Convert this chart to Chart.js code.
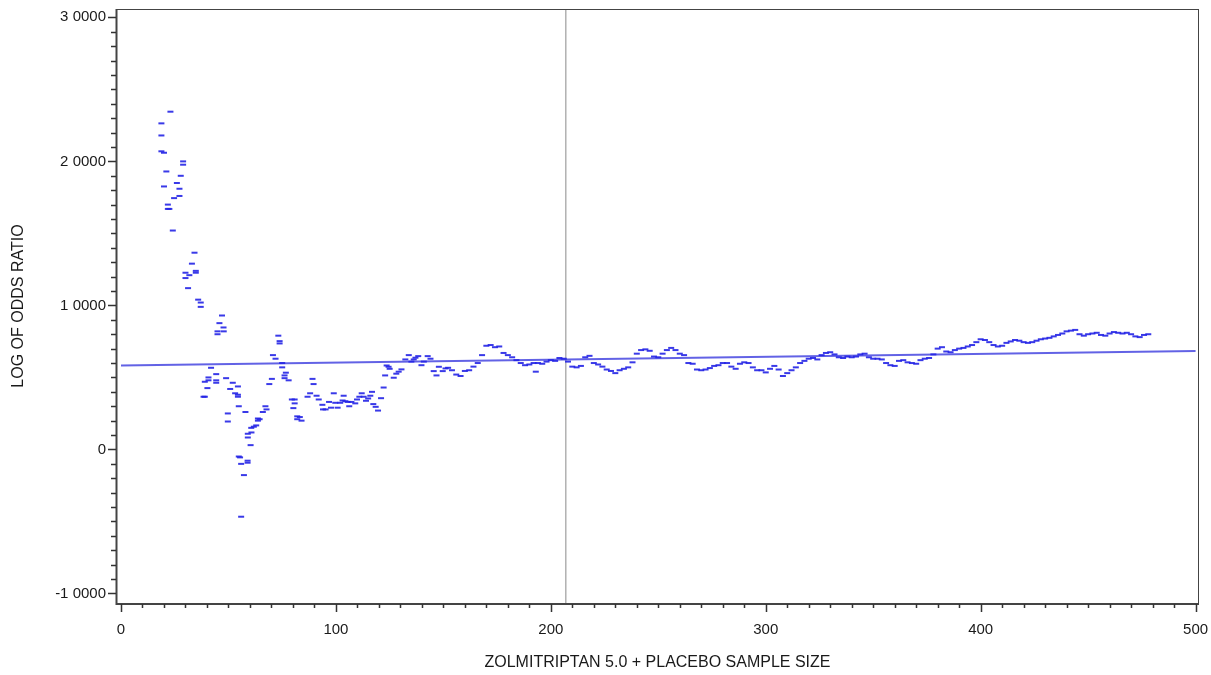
<!DOCTYPE html>
<html>
<head>
<meta charset="utf-8">
<script src="https://cdn.jsdelivr.net/npm/chart.js@4"></script>
<style>
  html, body { margin: 0; padding: 0; background: #fff; }
  #wrap { width: 1211px; height: 675px; }
</style>
</head>
<body>
<div id="wrap"><canvas id="chart" width="1211" height="675"></canvas></div>
<script>
// Early, scattered part of the running estimate
const earlyN = [
  18.8, 18.8, 18.8, 20, 20, 21.1, 21.8, 21.8, 22.5, 23, 24.1, 24.7, 26, 27.2, 27.2, 27.8, 28.9, 28.9,
  30, 30, 31.2, 31.8, 33, 34.2, 34.8, 34.8, 35.9, 37.1, 37.1, 38.4, 39, 39, 40.2, 40.7, 40.7, 41.9,
  44.3, 44.3, 44.3, 44.9, 44.9, 45.8, 47, 47.7, 47.8, 48.9, 49.7, 49.7, 50.8, 52, 53.1, 54.4, 54.4, 54.4,
  54.8, 54.8, 55.4, 55.9, 55.9, 57.2, 57.9, 58.9, 58.9, 59, 59, 60.3, 60.6, 60.7, 61.8, 62.9, 63.7, 63.7,
  64.5, 66, 67.2, 67.7, 69, 70.2, 70.7, 71.9, 73.2, 73.8, 73.8, 75, 75, 76.1, 76.1, 76.7, 78, 79.5,
  80.8, 80.8, 80.2, 82, 83.2, 82, 84, 86.8, 88, 89.1, 89.6, 91, 92, 93.7, 94, 95.2, 96.8, 97.7, 99,
  99.7, 100.8, 102, 103.1, 103.6, 104.4, 105.5, 106.2, 107.2, 109, 109.8, 110.9, 112, 112.9, 114, 115,
  116, 116.8, 117.4, 118.5, 119.6, 121, 122.2, 122.9, 123.6, 124.5, 125, 126.9, 128.1, 129.2, 130.5,
  132.3, 133.9, 135.1, 136.2, 137, 138.3, 139.8, 140.9, 142.7, 144, 145.5, 146.8, 147.9, 149.7, 151, 152.2
];
const earlyLogOR = [
  2.264, 2.18, 2.07, 2.06, 1.826, 1.93, 1.70, 1.67, 1.67, 2.345, 1.52, 1.745, 1.85, 1.81, 1.76, 1.90, 2.0, 1.977,
  1.227, 1.19, 1.12, 1.21, 1.29, 1.366, 1.24, 1.227, 1.04, 1.02, 0.99, 0.366, 0.366, 0.47, 0.426, 0.50, 0.48, 0.567,
  0.523, 0.48, 0.463, 0.82, 0.80, 0.877, 0.93, 0.847, 0.82, 0.495, 0.25, 0.194, 0.42, 0.463, 0.39, 0.4375, 0.38, 0.366,
  0.30, -0.049, -0.055, -0.1, -0.467, -0.178, 0.26, -0.078, -0.092, 0.109, 0.083, 0.03, 0.15, 0.118, 0.158, 0.167, 0.215, 0.2,
  0.21, 0.26, 0.30, 0.278, 0.454, 0.49, 0.655, 0.63, 0.79, 0.752, 0.736, 0.60, 0.57, 0.514, 0.495, 0.533, 0.48, 0.347,
  0.347, 0.32, 0.287, 0.23, 0.225, 0.21, 0.2, 0.366, 0.39, 0.49, 0.454, 0.373, 0.347, 0.31, 0.278, 0.278, 0.33, 0.29, 0.39,
  0.324, 0.29, 0.324, 0.34, 0.373, 0.335, 0.33, 0.30, 0.33, 0.32, 0.347, 0.366, 0.39, 0.366, 0.338, 0.354,
  0.373, 0.40, 0.315, 0.296, 0.27, 0.356, 0.43, 0.514, 0.583, 0.574, 0.56, 0.498, 0.526, 0.54, 0.556,
  0.625, 0.655, 0.61, 0.625, 0.637, 0.648, 0.585, 0.61, 0.648, 0.63, 0.544, 0.514, 0.574, 0.544, 0.5625, 0.567
];

// Later, smoother part of the running estimate
const lateN = [
  154, 156, 158, 160, 162, 164, 166, 168, 170, 172, 174, 176, 178, 180, 182, 184, 186, 188, 190, 192, 193, 194, 196, 198,
  200, 202, 204, 206, 208, 210, 212, 214, 216, 218, 220, 222, 224, 226, 228, 230, 232, 234, 236, 238, 240, 242, 244, 246, 248,
  250, 252, 254, 256, 258, 260, 262, 264, 266, 268, 270, 272, 274, 276, 278, 280, 282, 284, 286, 288, 290, 292, 294, 296, 298,
  300, 302, 304, 306, 308, 310, 312, 314, 316, 318, 320, 322, 324, 326, 328, 330, 332, 334, 336, 338, 340, 342, 344, 346, 348,
  350, 352, 354, 356, 358, 360, 362, 364, 366, 368, 370, 372, 374, 376, 378, 380, 382, 384, 386, 388, 390, 392, 394, 396, 398,
  400, 402, 404, 406, 408, 410, 412, 414, 416, 418, 420, 422, 424, 426, 428, 430, 432, 434, 436, 438, 440, 442, 444, 446, 448,
  450, 452, 454, 456, 458, 460, 462, 464, 466, 468, 470, 472, 474, 476, 478
];
const lateLogOR = [
  0.55, 0.52, 0.51, 0.545, 0.55, 0.575, 0.6, 0.655, 0.72, 0.725, 0.71, 0.715, 0.67, 0.655, 0.64, 0.62, 0.6, 0.585, 0.59, 0.6, 0.54, 0.6, 0.595, 0.61,
  0.62, 0.615, 0.635, 0.63, 0.61, 0.575, 0.57, 0.58, 0.64, 0.65, 0.6, 0.59, 0.575, 0.555, 0.545, 0.53, 0.55, 0.56, 0.57, 0.605, 0.665, 0.69, 0.695, 0.685, 0.645,
  0.64, 0.665, 0.69, 0.705, 0.69, 0.665, 0.655, 0.6, 0.595, 0.555, 0.55, 0.555, 0.565, 0.58, 0.585, 0.6, 0.6, 0.575, 0.56, 0.595, 0.605, 0.6, 0.57, 0.55, 0.55,
  0.535, 0.56, 0.58, 0.555, 0.51, 0.53, 0.55, 0.57, 0.6, 0.615, 0.63, 0.635, 0.625, 0.655, 0.67, 0.675, 0.66, 0.64, 0.635, 0.645, 0.64, 0.645, 0.66, 0.665, 0.64,
  0.63, 0.63, 0.625, 0.6, 0.585, 0.58, 0.615, 0.62, 0.605, 0.6, 0.595, 0.62, 0.63, 0.635, 0.66, 0.7, 0.71, 0.68, 0.675, 0.69, 0.7, 0.705, 0.715, 0.725, 0.745,
  0.765, 0.76, 0.745, 0.725, 0.715, 0.72, 0.74, 0.75, 0.76, 0.755, 0.745, 0.74, 0.745, 0.755, 0.765, 0.77, 0.775, 0.785, 0.795, 0.805, 0.82, 0.825, 0.83, 0.8, 0.79,
  0.8, 0.805, 0.81, 0.795, 0.79, 0.805, 0.815, 0.81, 0.805, 0.81, 0.8, 0.785, 0.78, 0.795, 0.8
];

// Fitted line end points and reference line
const fitN = [0, 500];
const fitLogOR = [0.583, 0.683];
const refN = 207;

// Axis range and ticks
const xRange = [-2.33, 501.6];
const yRange = [-1.066, 3.058];
const xTicks = [0, 100, 200, 300, 400, 500];
const xTickLabels = ['0', '100', '200', '300', '400', '500'];
const yTicks = [-1, 0, 1, 2, 3];
const yTickLabels = ['-1 0000', '0', '1 0000', '2 0000', '3 0000'];
const xMinorStep = 10;
const yMinorStep = 0.1;

const FONT = "'Liberation Sans', Arial, sans-serif";

// build point lists
const points = [];
earlyN.forEach((n, i) => points.push({ x: n, y: earlyLogOR[i] }));
lateN.forEach((n, i) => points.push({ x: n, y: lateLogOR[i] }));

// keep tick labels from pushing the plot area in
function noLabelPadding(s) {
  s.paddingTop = 0;
  s.paddingBottom = 0;
  s.paddingLeft = 0;
  s.paddingRight = 0;
}

// draws the frame plus major/minor tick marks
const axisDecor = {
  id: 'axisDecor',
  afterDraw(chart) {
    const { ctx, chartArea: a, scales: { x, y } } = chart;
    ctx.save();
    ctx.strokeStyle = '#444';
    ctx.lineWidth = 1;
    ctx.strokeRect(a.left + 0.5, a.top + 0.5, a.right - a.left - 1, a.bottom - a.top);

    // heavier left and bottom axes
    ctx.lineWidth = 2;
    ctx.beginPath();
    ctx.moveTo(a.left + 0.5, a.top);
    ctx.lineTo(a.left + 0.5, a.bottom + 1);
    ctx.lineTo(a.right, a.bottom + 1);
    ctx.stroke();

    ctx.lineWidth = 1.5;
    ctx.strokeStyle = '#333';
    ctx.beginPath();
    for (let v = 0; v <= xTicks[xTicks.length - 1] + 0.001; v += xMinorStep) {
      const px = Math.round(x.getPixelForValue(v)) + 0.5;
      const isMajor = xTicks.includes(Math.round(v));
      ctx.moveTo(px, a.bottom + 1);
      ctx.lineTo(px, a.bottom + (isMajor ? 9 : 5));
    }
    const nMinor = Math.round((yTicks[yTicks.length - 1] - yTicks[0]) / yMinorStep);
    for (let i = 0; i <= nMinor; i++) {
      const v = yTicks[0] + i * yMinorStep;
      const py = Math.round(y.getPixelForValue(v)) + 0.5;
      const isMajor = i % 10 === 0;
      ctx.moveTo(a.left, py);
      ctx.lineTo(a.left - (isMajor ? 8 : 5), py);
    }
    ctx.stroke();
    ctx.restore();
  }
};

new Chart(document.getElementById('chart'), {
  type: 'scatter',
  data: {
    datasets: [
      {
        label: 'reference',
        type: 'line',
        data: [{ x: refN, y: yRange[0] }, { x: refN, y: yRange[1] }],
        borderColor: '#8a8a8a',
        borderWidth: 1,
        pointRadius: 0,
        order: 3
      },
      {
        label: 'fit',
        type: 'line',
        data: fitN.map((n, i) => ({ x: n, y: fitLogOR[i] })),
        borderColor: 'rgba(70, 70, 225, 0.85)',
        borderWidth: 2,
        pointRadius: 0,
        order: 2
      },
      {
        label: 'log odds ratio',
        data: points,
        pointStyle: 'line',
        pointRadius: 3,
        pointBorderWidth: 2,
        borderColor: 'rgba(35, 35, 230, 0.9)',
        backgroundColor: 'rgba(35, 35, 230, 0.9)',
        order: 1
      }
    ]
  },
  options: {
    responsive: false,
    animation: false,
    layout: { padding: { top: 9, right: 12, left: 0, bottom: 0 } },
    plugins: {
      legend: { display: false },
      tooltip: { enabled: false }
    },
    scales: {
      x: {
        type: 'linear',
        min: xRange[0],
        max: xRange[1],
        afterFit: (s) => { s.height = 72; noLabelPadding(s); },
        afterBuildTicks: (s) => { s.ticks = xTicks.map(v => ({ value: v })); },
        grid: { display: false, drawTicks: false },
        border: { display: false },
        ticks: {
          padding: 18,
          maxRotation: 0,
          autoSkip: false,
          color: '#1a1a1a',
          font: { family: FONT, size: 15 },
          callback: (v) => xTickLabels[xTicks.indexOf(v)]
        },
        title: {
          display: true,
          text: 'ZOLMITRIPTAN 5.0 + PLACEBO SAMPLE SIZE',
          color: '#1a1a1a',
          font: { family: FONT, size: 16 },
          padding: { top: 0, bottom: 2.5 }
        }
      },
      y: {
        type: 'linear',
        min: yRange[0],
        max: yRange[1],
        afterFit: (s) => { s.width = 116; noLabelPadding(s); },
        afterBuildTicks: (s) => { s.ticks = yTicks.map(v => ({ value: v })); },
        grid: { display: false, drawTicks: false },
        border: { display: false },
        ticks: {
          padding: 10,
          autoSkip: false,
          color: '#1a1a1a',
          font: { family: FONT, size: 15 },
          callback: (v) => yTickLabels[yTicks.indexOf(v)]
        },
        title: {
          display: true,
          text: 'LOG OF ODDS RATIO',
          color: '#1a1a1a',
          font: { family: FONT, size: 16 },
          padding: { top: 8.5, bottom: 0 }
        }
      }
    }
  },
  plugins: [axisDecor]
});
</script>
</body>
</html>
